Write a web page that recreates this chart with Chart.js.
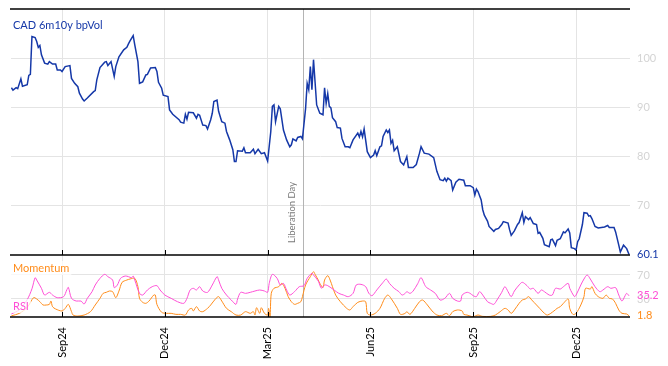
<!DOCTYPE html>
<html>
<head>
<meta charset="utf-8">
<title>CAD 6m10y bpVol</title>
<script src="https://cdn.jsdelivr.net/npm/chart.js"></script>
<style>
  html, body { margin: 0; padding: 0; background: #fff; }
</style>
</head>
<body>
<canvas id="volChart" width="668" height="366"></canvas>
<script>
// x is a business-day index, 0 = Mon 2 Sep 2024
const tickDays = [0, 65, 130, 195, 260, 325];
const tickLabels = ['Sep24', 'Dec24', 'Mar25', 'Jun25', 'Sep25', 'Dec25'];
const eventDay = 152.5;
const eventLabel = 'Liberation Day';

const volDays = [
  -32,-31,-29,-28,-26,-25,-22,-21,-20,-19, -17,-16,-15,-14,-13,-11,-9,-8,-6,-4,
  -3,-1,0,2,5,6,8,10,11,13, 14,16,20,21,22,24,27,28,29,31,
  33,34,36,39,41,42,43,45,46,48, 49,51,53,54,56,59,60,61,63,64,
  67,68,70,74,75,77,78,79,80,83, 85,86,87,89,91,92,94,95,96,98,
  99,101,103,104,106,108,109,110,111,114, 115,116,119,121,122,124,126,128,130,132,
  133,134,135,137,138,140,142,144,145,146, 148,149,151,152,154,155,156,157,158,159,
  161,163,165,166,167,168,169,170,171,173, 174,176,177,179,181,182,184,187,188,189,
  190,191,193,195,197,198,199,201,202,203, 205,206,207,208,209,210,212,214,216,218,
  219,222,224,226,227,229,232,235,237,239, 241,242,243,244,246,247,249,251,254,255,
  258,260,261,262,263,265,266,267,269,270, 273,274,276,278,279,282,283,284,286,288,
  289,291,292,293,295,296,298,300,301,302, 304,305,308,309,310,312,313,315,317,318,
  320,321,322,324,325,326,327,329,330,332, 333,334,335,337,339,341,343,345,346,349,
  350,352,353,355,357,358.5
];
const volValues = [
  94.0,93.5,94.0,93.8,95.8,94.3,94.6,96.5,96.7,104.4, 104.2,103.4,102.2,102.6,100.7,99.0,98.8,99.3,98.8,98.8,
  97.6,97.6,97.3,98.3,98.5,95.9,94.9,94.2,92.9,91.7, 91.3,91.9,93.2,93.4,95.6,98.1,99.2,99.3,98.5,99.3,
  96.3,98.3,100.3,101.7,102.2,102.9,103.5,104.6,102.7,99.3, 94.9,95.2,96.6,96.7,98.0,98.1,97.3,95.1,93.9,92.5,
  92.2,89.5,88.6,87.5,87.0,86.8,88.6,87.6,89.0,88.9, 87.8,88.6,88.4,86.4,86.3,85.6,87.5,88.8,91.2,91.5,
  89.2,87.1,86.8,85.1,83.4,81.4,79.0,79.0,81.2,81.1, 81.8,80.8,80.8,81.5,80.6,81.5,80.6,80.8,79.1,85.1,
  90.2,90.5,87.1,90.2,89.7,85.4,83.4,82.0,82.4,83.6, 83.2,83.9,84.1,83.6,89.8,94.9,93.6,98.3,93.6,99.7,
  90.5,88.8,88.5,94.0,90.8,92.8,90.2,89.9,87.9,87.1, 85.9,85.8,83.7,82.0,82.0,81.8,83.4,84.8,84.0,85.1,
  84.0,85.6,81.0,79.8,80.3,81.2,80.2,82.0,82.2,84.1, 85.4,84.9,85.4,82.7,83.3,81.2,82.0,79.0,78.3,80.0,
  77.8,77.8,78.4,80.7,82.0,80.7,80.5,79.8,77.0,75.3, 75.1,75.6,75.0,75.6,75.1,73.2,74.8,75.4,75.2,74.1,
  74.1,73.7,72.2,73.4,72.9,71.2,69.2,68.1,66.9,65.8, 64.8,65.2,65.4,66.2,66.8,66.5,65.1,64.0,64.9,66.2,
  66.6,68.6,66.6,67.8,67.2,67.6,66.4,66.2,64.4,64.6, 63.4,62.1,61.7,63.1,63.2,61.9,63.0,63.3,64.7,64.5,
  65.3,64.5,61.5,61.3,61.0,62.7,63.3,66.2,68.6,68.5, 67.9,68.0,67.4,65.8,65.5,65.6,65.7,66.0,65.6,65.6,
  64.7,62.0,60.6,62.0,61.3,60.1
];

const rsiDays = [
  -32,-27,-22,-19,-17,-16,-13,-11,-8,-6, -3,1,3,4,6,9,12,14,16,19,
  21,24,27,29,32,33,35,37,40,42, 44,45,46,49,51,54,57,60,62,65,
  69,73,77,79,81,83,85,87,89,92, 95,98,99,101,104,107,110,111,113,116,
  119,122,125,128,130,131,133,136,138,140, 142,144,147,150,153,155,158,159,162,164,
  166,168,172,175,178,181,184,186,189,192, 194,196,199,203,205,207,210,213,215,217,
  218,220,222,225,227,230,233,236,239,242, 245,247,250,252,253,256,258,260,262,264,
  266,269,271,273,275,278,280,282,284,286, 289,291,294,296,298,301,303,305,308,310,
  312,315,317,320,321,324,325,328,330,332, 334,337,340,342,345,347,350,352,354,356,
  357,358.5
];
const rsiValues = [
  5,12,29,47,65.5,61.6,47.8,36.6,41.1,36.6, 32.2,33.9,45,49.4,31.1,26.6,26.6,21.6,31.1,42.2,
  53.3,64.4,71.1,67.2,61.6,48.9,53.3,64.4,68.3,67.2, 65.5,68.3,61.6,39.4,36.6,45,50.5,52.2,45,36.6,
  31.1,25.5,22.8,31.1,45,47.8,45,50.5,43.3,41.1, 53.3,67.2,61.6,47.8,36.6,28.3,21.1,30,41.1,39.4,
  41.1,43.3,45,43.3,41.1,56.1,71.1,64.4,53.3,56.1, 45,36.6,42.2,50.5,52.2,64.4,72.8,70,60,48,
  53.3,52.2,45,39.4,36.6,33.9,39.4,53.3,54.4,50.5, 39.4,35.5,45,57.8,63.3,56.1,47.8,42.2,36.6,39.4,
  42.2,39.4,43.3,56.1,65.5,50.5,45,39.4,28.3,31.1, 39.4,31.1,26.6,26.6,36.6,41.1,39.4,35.5,33.9,42.2,
  36.6,25.5,22.8,21.1,28.3,41.1,50.5,42.2,33.9,43.3, 53.3,57.8,52.2,46.6,47.8,39.4,45,42.2,36.6,36.6,
  47.8,46.6,50.5,56.1,47.8,33.9,36.6,53.3,63.3,70, 63.3,50.5,42.2,45,50.5,47.8,48.9,36.6,26.6,35.5,
  39.4,35.2
];

const momDays = [
  -32,-27,-22,-18,-16,-14,-12,-10,-8,-7, -6,-4,0,2,4,6,7,10,14,18,
  21,24,26,28,30,32,34,36,38,41, 43,46,48,49,51,53,55,58,59,60,
  63,66,69,72,75,78,80,82,83,85, 87,89,92,94,97,99,101,104,107,110,
  113,116,119,121,122,123,125,126,128,130, 130.6,131.5,132.3,134,137,139,141,143,145,147,
  149,151,152,154,157,159,160,162,163,165, 166,168,169.5,171,173,176,180,182,184,187,
  190,192,193,195,198,201,204,206,208,212, 214,217,218,220,223,226,228,231,234,237,
  240,243,245,247,250,253,254,256,258,260, 263,266,271,274,277,280,282,284,286,289,
  291,293,295,297,300,302,305,307,311,313, 315,317,320,321,323,325,328,330,331,334,
  335,337,339,342,344,346,348,350,352,354, 357,358.5
];
const momValues = [
  2,6,16,32.2,30,25.5,20,20,21,26.6, 17.2,13.3,10,14.4,21,8.9,3.3,1.6,3.3,8.9,
  20,31.1,39.4,41.1,43.3,42.2,32.2,43.3,57.8,61.6, 63.3,64.4,50.5,31.1,24.4,22.8,26.6,36.6,36.6,21,
  7.8,6.1,6.1,4.4,4.4,3.3,11.7,14.4,10,17.2, 10,8.9,14.4,20,30,33.9,26.6,14.4,8.9,3.3,
  3.3,8.9,6.1,8.9,3.3,15.5,6.1,15.5,6.1,3.3, 14.4,0.5,39.4,47.8,50.5,56.1,47.8,33.9,25.5,21.1,
  22.8,25.5,33.9,53.3,67.2,75.5,71.1,61.6,56.1,48.9, 61.6,68.9,61.6,50.5,36.6,25.5,14.4,11.7,17.2,24.4,
  26.6,25.5,6.1,3.3,6.1,14.4,31.1,36.6,31.1,14.4, 4.4,6.1,8.9,4.4,14.4,25.5,28.3,20,10,3.3,
  2.2,6.1,2.2,8.9,11.7,10,4.4,3.3,1.6,0.5, 3.3,1,1,3.3,8.9,14.4,11.7,6.1,11.7,22.8,
  28.3,30,33.9,28.3,20,14.4,6.1,3.3,10,14.4, 17.2,22.8,30,14.4,4.4,6.1,20,33.9,47.8,46.6,
  50.5,39.4,33.9,31.1,36.6,31.1,30,22.8,11.7,6.1, 5,1.8
];

const BLUE = '#1538a8';
const PINK = '#ff4fd6';
const ORANGE = '#ff8c1a';
const GRID = '#e4e4e4';
const TICKTXT = '#d4d4d4';

function pts(xs, ys) {
  return xs.map((x, i) => ({ x: x, y: ys[i] }));
}

// the right axes must not reserve room for half a label above/below
function fitRight(s) {
  s.width = 38;
  s.paddingTop = 0;
  s.paddingBottom = 0;
}

Chart.defaults.font.family = 'Lato, "Open Sans", sans-serif';

// borders, tick marks, event line and the in-chart labels
const decorPlugin = {
  id: 'decor',
  beforeDatasetsDraw(chart) {
    const ctx = chart.ctx, a = chart.chartArea, x = chart.scales.x;
    const ex = Math.round(x.getPixelForValue(eventDay)) + 0.5;
    ctx.save();
    ctx.strokeStyle = '#b4b4b4';
    ctx.lineWidth = 1;
    ctx.beginPath();
    ctx.moveTo(ex, a.top);
    ctx.lineTo(ex, a.bottom);
    ctx.stroke();
    ctx.translate(ex - 12, chart.scales.y.bottom - 12);
    ctx.rotate(-Math.PI / 2);
    ctx.fillStyle = '#7a7a7a';
    ctx.font = '9.5px Lato, sans-serif';
    ctx.textAlign = 'left';
    ctx.textBaseline = 'middle';
    ctx.fillText(eventLabel, 0, 0);
    ctx.restore();
  },
  afterDraw(chart) {
    const ctx = chart.ctx, a = chart.chartArea;
    const x = chart.scales.x, y = chart.scales.y, y2 = chart.scales.y2;
    ctx.save();
    ctx.strokeStyle = '#000';
    ctx.lineWidth = 1.5;
    [a.top, y.bottom, a.bottom].forEach(function (yy) {
      ctx.beginPath();
      ctx.moveTo(a.left - 1, yy);
      ctx.lineTo(a.right, yy);
      ctx.stroke();
    });
    ctx.lineWidth = 1;
    tickDays.forEach(function (d) {
      const px = Math.round(x.getPixelForValue(d)) + 0.5;
      [y.bottom, a.bottom].forEach(function (yy) {
        ctx.beginPath();
        ctx.moveTo(px, yy - 5);
        ctx.lineTo(px, yy);
        ctx.stroke();
      });
    });

    function label(text, color, lx, ly, bg) {
      ctx.font = '11px Lato, sans-serif';
      ctx.textAlign = 'left';
      ctx.textBaseline = 'middle';
      if (bg) {
        const w = ctx.measureText(text).width;
        ctx.fillStyle = 'rgba(255,255,255,0.75)';
        ctx.fillRect(lx - 2, ly - 7, w + 4, 14);
      }
      ctx.fillStyle = color;
      ctx.fillText(text, lx, ly);
    }
    label('CAD 6m10y bpVol', BLUE, a.left + 2, a.top + 16, false);
    label('Momentum', ORANGE, a.left + 2, y.bottom + 13, true);
    label('RSI', PINK, a.left + 2, a.bottom - 11, true);

    const rx = a.right + 7;
    label(volValues[volValues.length - 1].toFixed(1), BLUE, rx, y.getPixelForValue(volValues[volValues.length - 1]), false);
    label(rsiValues[rsiValues.length - 1].toFixed(1), PINK, rx, y2.getPixelForValue(rsiValues[rsiValues.length - 1]), false);
    label(momValues[momValues.length - 1].toFixed(1), ORANGE, rx, y2.getPixelForValue(momValues[momValues.length - 1]), false);
    ctx.restore();
  }
};

new Chart(document.getElementById('volChart'), {
  type: 'line',
  data: {
    datasets: [
      { label: 'CAD 6m10y bpVol', data: pts(volDays, volValues), yAxisID: 'y',
        borderColor: BLUE, borderWidth: 1.5, pointRadius: 0, tension: 0 },
      { label: 'RSI', data: pts(rsiDays, rsiValues), yAxisID: 'y2',
        borderColor: PINK, borderWidth: 1, pointRadius: 0, tension: 0.3 },
      { label: 'Momentum', data: pts(momDays, momValues), yAxisID: 'y2',
        borderColor: ORANGE, borderWidth: 1, pointRadius: 0, tension: 0.3 }
    ]
  },
  options: {
    responsive: false,
    animation: false,
    layout: { padding: { left: 11, top: 9, right: 0, bottom: 0 } },
    plugins: { legend: { display: false }, tooltip: { enabled: false } },
    scales: {
      x: {
        type: 'linear',
        min: -32.25,
        max: 359.1,
        grid: { color: GRID, drawTicks: false },
        border: { display: false },
        ticks: {
          autoSkip: false,
          minRotation: 90,
          maxRotation: 90,
          padding: 10,
          color: '#000',
          font: { size: 11 },
          callback: function (v) {
            const i = tickDays.indexOf(v);
            return i >= 0 ? tickLabels[i] : '';
          }
        },
        afterBuildTicks: function (s) { s.ticks = tickDays.map(v => ({ value: v })); },
        afterFit: function (s) { s.height = 49; }
      },
      y: {
        position: 'right',
        stack: 'panels',
        stackWeight: 246,
        min: 60,
        max: 110,
        grid: { color: GRID, drawTicks: false },
        border: { display: false },
        ticks: { color: TICKTXT, padding: 7, font: { size: 11 } },
        afterBuildTicks: function (s) { s.ticks = [70, 80, 90, 100].map(v => ({ value: v })); },
        afterFit: fitRight
      },
      y2: {
        position: 'right',
        stack: 'panels',
        stackWeight: 62,
        min: 0,
        max: 103.3,
        grid: { color: GRID, drawTicks: false },
        border: { display: false },
        ticks: { color: TICKTXT, padding: 7, font: { size: 11 } },
        afterBuildTicks: function (s) { s.ticks = [30, 70].map(v => ({ value: v })); },
        afterFit: fitRight
      }
    }
  },
  plugins: [decorPlugin]
});
</script>
</body>
</html>
